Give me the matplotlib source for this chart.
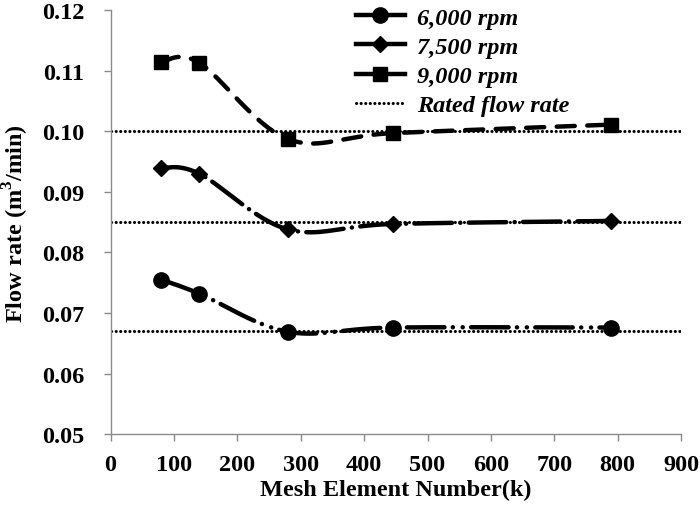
import numpy as np
import matplotlib
matplotlib.use('Agg')
import matplotlib.pyplot as plt
from matplotlib.lines import Line2D

plt.rcParams['font.family'] = ['Liberation Serif', 'DejaVu Serif']
plt.rcParams['font.weight'] = 'bold'
plt.rcParams['mathtext.fontset'] = 'custom'
plt.rcParams['mathtext.rm'] = 'Liberation Serif:bold'
plt.rcParams['lines.scale_dashes'] = False

# Data
mesh_k = [80, 140, 280, 446, 789]
flow_6000 = [0.0755, 0.0732, 0.0669, 0.0676, 0.0676]
flow_7500 = [0.0940, 0.0930, 0.0838, 0.0847, 0.0852]
flow_9000 = [0.1115, 0.1113, 0.0987, 0.0997, 0.1011]
rated = [0.067, 0.085, 0.100]


def smooth(xs, ys, n=40):
    # Excel-like smoothed line (cubic Bezier through the points)
    p = np.column_stack([xs, ys]).astype(float)
    out = []
    for i in range(len(p) - 1):
        p0 = p[i - 1] if i > 0 else p[i]
        p3 = p[i + 2] if i + 2 < len(p) else p[i + 1]
        c1 = p[i] + (p[i + 1] - p0) / 6
        c2 = p[i + 1] - (p3 - p[i]) / 6
        t = np.linspace(0, 1, n)[:, None]
        seg = ((1 - t) ** 3 * p[i] + 3 * (1 - t) ** 2 * t * c1
               + 3 * (1 - t) * t ** 2 * c2 + t ** 3 * p[i + 1])
        out.append(seg if i == 0 else seg[1:])
    out = np.vstack(out)
    return out[:, 0], out[:, 1]


fig = plt.figure(figsize=(7, 5.06), dpi=100)
ax = fig.add_axes([0.158, 0.140, 0.815, 0.838])

series = [
    (flow_6000, 'o', 11, (0, (27, 6, 0.1, 7, 0.1, 6)), '6,000 rpm'),
    (flow_7500, 'D', 8.5, (0, (27, 6, 0.1, 6)), '7,500 rpm'),
    (flow_9000, 's', 10, (0, (13, 9)), '9,000 rpm'),
]

handles = []
for ys, mk, ms, ls, lab in series:
    sx, sy = smooth(mesh_k, ys)
    ax.plot(sx, sy, color='black', linewidth=3.2, linestyle=ls,
            dash_capstyle='round', zorder=3)
    ax.plot(mesh_k, ys, linestyle='none', marker=mk, markersize=ms,
            color='black', zorder=4)
    handles.append(Line2D([], [], color='black', linewidth=3.2, marker=mk,
                          markersize=ms, label=lab))

for r in rated:
    ax.plot([0, 900], [r, r], color='black', linewidth=2.2,
            linestyle=(0, (0.1, 3.2)), dash_capstyle='round', zorder=2)
handles.append(Line2D([], [], color='black', linewidth=2.2,
                      linestyle=(0, (0.1, 3.2)), dash_capstyle='round',
                      label='Rated flow rate'))

ax.set_xlim(0, 900)
ax.set_ylim(0.05, 0.12)
ax.set_xticks(np.arange(0, 901, 100))
ax.set_yticks(np.arange(0.05, 0.1201, 0.01))
ax.set_yticklabels(['%.2f' % v for v in np.arange(0.05, 0.1201, 0.01)])

for s in ['top', 'right']:
    ax.spines[s].set_visible(False)
for s in ['left', 'bottom']:
    ax.spines[s].set_color('#8a8a8a')
    ax.spines[s].set_linewidth(1.0)
ax.tick_params(axis='both', direction='out', length=5, width=1.0,
               color='#8a8a8a', labelsize=17.5)
ax.tick_params(axis='y', pad=14)
ax.tick_params(axis='x', pad=9)
for lbl in ax.get_xticklabels() + ax.get_yticklabels():
    lbl.set_fontweight('bold')

ax.set_xlabel('Mesh Element Number(k)', fontsize=17.5, fontweight='bold', labelpad=3)
ax.set_ylabel('Flow rate (m$^3$/min)', fontsize=17.5, fontweight='bold', labelpad=8)

leg = ax.legend(handles=handles, loc='upper left', bbox_to_anchor=(0.392, 1.06),
                frameon=False, handlelength=2.0, handletextpad=0.5,
                labelspacing=0.3,
                prop={'family': 'Liberation Serif', 'weight': 'bold',
                      'style': 'italic', 'size': 17.5})

plt.savefig('out.png', dpi=100, facecolor='white')
